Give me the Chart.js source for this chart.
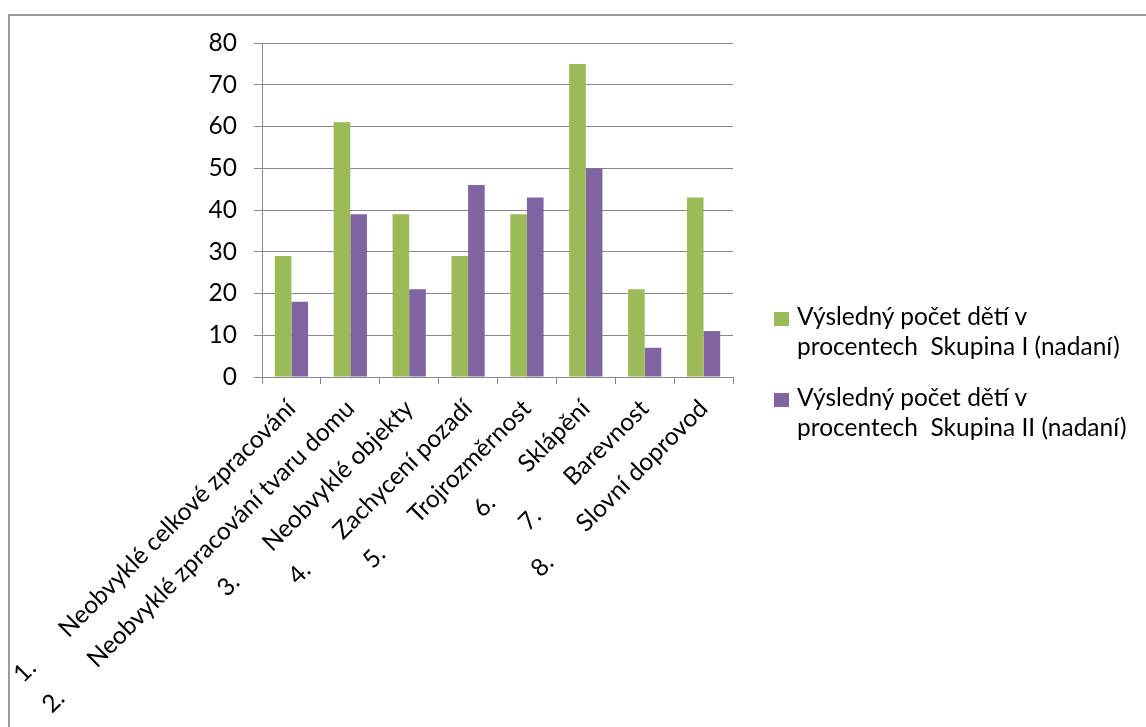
<!DOCTYPE html>
<html>
<head>
<meta charset="utf-8">
<script src="https://cdn.jsdelivr.net/npm/chart.js@4.4.1/dist/chart.umd.min.js"></script>
<style>
  html, body { margin: 0; padding: 0; background: #fff; }
  #wrap { position: relative; width: 1146px; height: 727px; overflow: hidden; }
  #frame { position: absolute; left: 8px; top: 14px; width: 1300px; height: 900px; border: 2px solid #9b9b9b; box-sizing: border-box; }
  canvas { position: absolute; left: 0; top: 0; }
  #legend { position: absolute; left: 774px; top: 301px; font-family: Lato, "Open Sans", sans-serif; font-size: 24.5px; line-height: 30px; color: #000; }
  .item { position: relative; padding-left: 23px; margin-bottom: 21px; white-space: pre; }
  .sw { position: absolute; left: 0; top: 11px; width: 15px; height: 14px; }
</style>
</head>
<body>
<div id="wrap">
  <div id="frame"></div>
  <canvas id="c" width="1146" height="727"></canvas>
  <div id="legend"></div>
</div>
<script>
const categories = [
  "1.       Neobvyklé celkové zpracování",
  "2.       Neobvyklé zpracování tvaru domu",
  "3.       Neobvyklé objekty",
  "4.       Zachycení pozadí",
  "5.       Trojrozměrnost",
  "6.       Sklápění",
  "7.       Barevnost",
  "8.       Slovní doprovod"
];
const seriesNames = [
  ["Výsledný počet dětí v", "procentech  Skupina I (nadaní)"],
  ["Výsledný počet dětí v", "procentech  Skupina II (nadaní)"]
];
const group1 = [29, 61, 39, 29, 39, 75, 21, 43];
const group2 = [18, 39, 21, 46, 43, 50, 7, 11];
const yTicks = [0, 10, 20, 30, 40, 50, 60, 70, 80];
const colors = ["#9BBB59", "#8064A2"];

const FONT = { family: "Lato, 'Open Sans', sans-serif", size: 24.5 };
const GRID = "#888888";

const chart = new Chart(document.getElementById("c"), {
  type: "bar",
  data: {
    labels: categories,
    datasets: [
      { label: seriesNames[0].join(" "), data: group1, backgroundColor: colors[0], categoryPercentage: 0.565, barPercentage: 1.0 },
      { label: seriesNames[1].join(" "), data: group2, backgroundColor: colors[1], categoryPercentage: 0.565, barPercentage: 1.0 }
    ]
  },
  options: {
    responsive: false,
    animation: false,
    layout: { padding: { left: 8, top: 43, right: 413, bottom: 0 } },
    plugins: { legend: { display: false }, tooltip: { enabled: false } },
    scales: {
      x: {
        grid: { drawOnChartArea: false, drawTicks: true, tickLength: 7, color: GRID, offset: true },
        border: { color: GRID, width: 1 },
        ticks: { font: FONT, color: "#000", minRotation: 45, maxRotation: 45, autoSkip: false, padding: 10 },
        afterFit: (s) => { s.height = 350; s.paddingLeft = 0; s.paddingRight = 0; }
      },
      y: {
        min: 0, max: 80,
        grid: { color: GRID, tickLength: 8, drawTicks: true },
        border: { color: GRID, width: 1 },
        afterBuildTicks: (s) => { s.ticks = yTicks.map(v => ({ value: v })); },
        ticks: { font: FONT, color: "#000", padding: 17 },
        afterFit: (s) => { s.width = 254; s.paddingTop = 0; s.paddingBottom = 0; }
      }
    }
  }
});

const legend = document.getElementById("legend");
seriesNames.forEach((lines, i) => {
  const it = document.createElement("div");
  it.className = "item";
  const sw = document.createElement("span");
  sw.className = "sw";
  sw.style.background = colors[i];
  it.appendChild(sw);
  lines.forEach((t, j) => {
    if (j) it.appendChild(document.createElement("br"));
    it.appendChild(document.createTextNode(t));
  });
  legend.appendChild(it);
});
</script>
</body>
</html>
